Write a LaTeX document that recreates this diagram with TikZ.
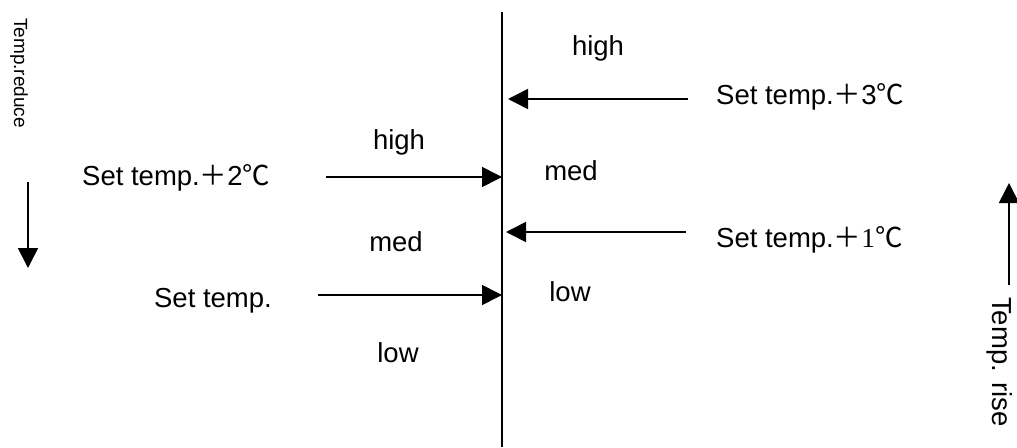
\documentclass[tikz,border=0pt]{standalone}
\usepackage{fontspec}
\setmainfont{Liberation Sans}
\newfontfamily\cjk{Noto Sans CJK SC}
\newfontfamily\serifnum{Liberation Serif}
\usetikzlibrary{arrows.meta}
\begin{document}
\begin{tikzpicture}[x=1pt,y=-1pt,
  lbl/.style={inner sep=0pt,font=\fontsize{27.5}{32}\selectfont},
  small/.style={inner sep=0pt,font=\fontsize{19}{22}\selectfont},
  arr/.style={line width=1.6pt,-{Triangle[length=20pt,width=20pt]}}]
\useasboundingbox (0,0) rectangle (1017,447);
% main axis
\coordinate (top) at (502,12);
\coordinate (bot) at (502,447);
\draw[line width=1.6pt] (top) -- (bot);
% right side
\node[lbl] (hR) at (598,48) {high};
\node[lbl,anchor=west] (s3) at (716,97) {Set temp.{\cjk ＋}3{\cjk ℃}};
\coordinate (s3a) at (688,99);
\coordinate (s3b) at (508,99);
\draw[arr] (s3a) -- (s3b);
\node[lbl] (mR) at (571,171) {med};
\node[lbl,anchor=west] (s1) at (716,240) {Set temp.{\cjk ＋}{\serifnum 1}{\cjk ℃}};
\coordinate (s1a) at (686,232);
\coordinate (s1b) at (506,232);
\draw[arr] (s1a) -- (s1b);
\node[lbl] (lR) at (570,292) {low};
% left side
\node[lbl] (hL) at (399,142) {high};
\node[lbl,anchor=west] (s2) at (82,178) {Set temp.{\cjk ＋}2{\cjk ℃}};
\coordinate (s2a) at (326,177);
\coordinate (s2b) at (502,177);
\draw[arr] (s2a) -- (s2b);
\node[lbl] (mL) at (396,242) {med};
\node[lbl] (s0) at (213,301) {Set temp.};
\coordinate (s0a) at (318,295);
\coordinate (s0b) at (502,295);
\draw[arr] (s0a) -- (s0b);
\node[lbl] (lL) at (398,353) {low};
% temp reduce
\node[small,rotate=-90,anchor=west] (tr) at (19,18) {Temp.reduce};
\coordinate (tra) at (28,182);
\coordinate (trb) at (28,268);
\draw[arr] (tra) -- (trb);
% temp rise
\node[lbl,rotate=-90,anchor=west] (ts) at (1000,297) {Temp. rise};
\coordinate (tsa) at (1009,285);
\coordinate (tsb) at (1009,183);
\draw[arr] (tsa) -- (tsb);
\end{tikzpicture}
\end{document}
